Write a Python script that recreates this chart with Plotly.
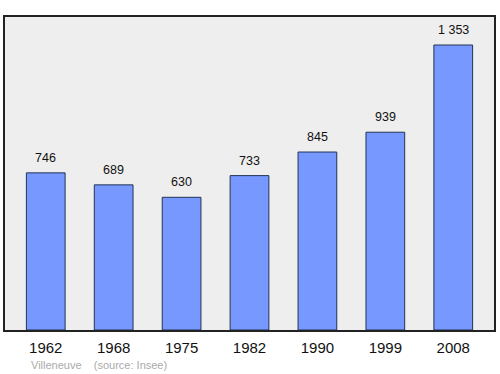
import plotly.graph_objects as go

years = ["1962", "1968", "1975", "1982", "1990", "1999", "2008"]
population = [746, 689, 630, 733, 845, 939, 1353]
labels = ["746", "689", "630", "733", "845", "939", "1 353"]

fig = go.Figure()
fig.add_trace(go.Bar(
    x=list(range(len(years))), y=population, width=0.57,
    marker=dict(color="#7799ff", line=dict(color="#223355", width=1)),
    hoverinfo="skip",
))
for i, (v, t) in enumerate(zip(population, labels)):
    fig.add_annotation(x=i, y=v, text=t, showarrow=False, yshift=15,
                       font=dict(size=12.5, color="#111111"))
fig.add_annotation(xref="paper", yref="paper", x=0.05, y=-0.112, xanchor="left",
                   yanchor="middle", showarrow=False,
                   text="Villeneuve &nbsp;&nbsp;&nbsp;(source: Insee)",
                   font=dict(size=11, color="#aaaaaa"))
fig.update_layout(
    width=500, height=374,
    margin=dict(l=5, r=4, t=17, b=44),
    paper_bgcolor="white", plot_bgcolor="#eeeeee",
    font=dict(family="Liberation Sans, Arial, sans-serif"),
    showlegend=False,
    xaxis=dict(range=[-0.6, 6.6], tickvals=list(range(len(years))), ticktext=years,
               showgrid=False, zeroline=False, showline=True, mirror=True,
               linecolor="#222222", linewidth=1.5, ticks="", ticklabelstandoff=3,
               tickfont=dict(size=15, color="#111111")),
    yaxis=dict(range=[0, 1486], showgrid=False, zeroline=False, showticklabels=False,
               showline=True, mirror=True, linecolor="#222222", linewidth=1.5, ticks=""),
)
fig.write_html("out.html", config={"displayModeBar": False},
               post_script="document.body.style.margin='0';document.body.style.overflow='hidden';")
